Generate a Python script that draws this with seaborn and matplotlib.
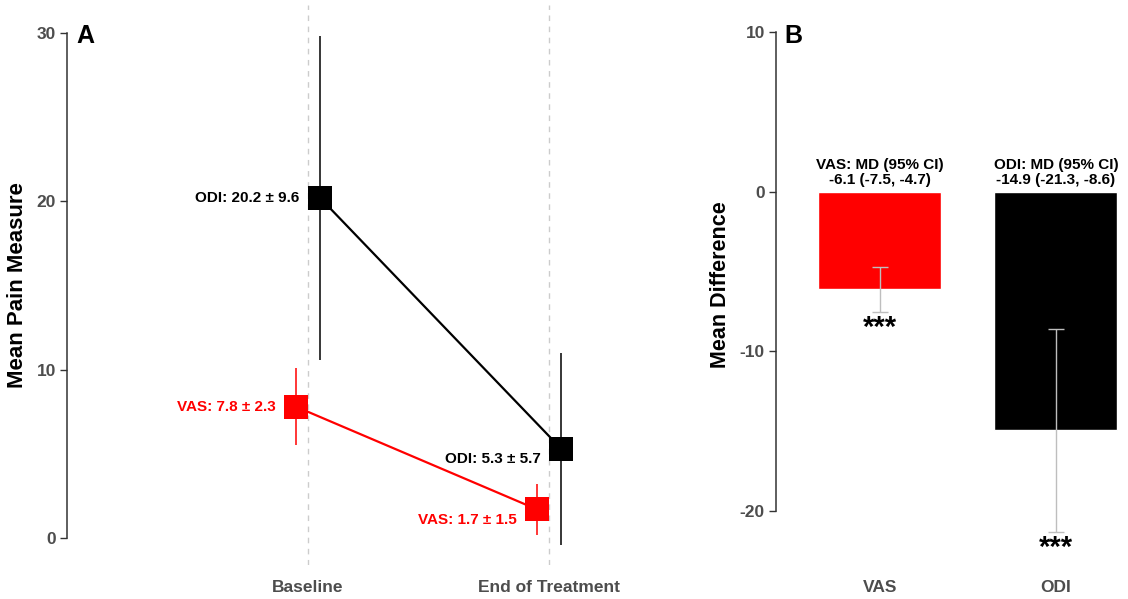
import numpy as np
import pandas as pd
import matplotlib
matplotlib.use('Agg')
import matplotlib.pyplot as plt
import seaborn as sns

sns.set_theme(style='white')
plt.rcParams['font.family'] = ['Liberation Sans', 'DejaVu Sans']
plt.rcParams['font.weight'] = 'bold'
plt.rcParams['axes.unicode_minus'] = False
plt.rcParams['text.color'] = 'black'

# panel A data
timepoints = ['Baseline', 'End of Treatment']
measures = ['ODI', 'VAS']
odi_mean = [20.2, 5.3]
odi_sd = [9.6, 5.7]
vas_mean = [7.8, 1.7]
vas_sd = [2.3, 1.5]

# panel B data
md_labels = ['VAS', 'ODI']
md_values = [-6.1, -14.9]
md_ci_low = [-7.5, -21.3]
md_ci_high = [-4.7, -8.6]
md_stars = ['***', '***']

colors = {'ODI': 'black', 'VAS': 'red'}
grey_txt = '#4d4d4d'

rows = []
for i, tp in enumerate(timepoints):
    rows.append(dict(measure='ODI', tp=tp, pos=i + 1 + 0.05, mean=odi_mean[i], sd=odi_sd[i]))
    rows.append(dict(measure='VAS', tp=tp, pos=i + 1 - 0.05, mean=vas_mean[i], sd=vas_sd[i]))
dfa = pd.DataFrame(rows)

fig = plt.figure(figsize=(11.28, 5.99), dpi=100)
bot, top = 34 / 599, 594 / 599
axA = fig.add_axes([67 / 1128, bot, 610 / 1128, top - bot])
axB = fig.add_axes([776 / 1128, bot, 352 / 1128, top - bot])

# ---- A
for x in [1, 2]:
    axA.axvline(x, color='#cccccc', lw=1, ls=(0, (4, 4)), zorder=0)
for m in measures:
    d = dfa[dfa.measure == m]
    axA.errorbar(d.pos, d['mean'], yerr=d.sd, fmt='none', ecolor=colors[m], elinewidth=1.1, zorder=1)
sns.lineplot(data=dfa, x='pos', y='mean', hue='measure', palette=colors, marker='s',
             markersize=17, markeredgewidth=0, lw=1.6, legend=False, ax=axA, zorder=2)
for _, r in dfa.iterrows():
    yoff = 0 if r.tp == 'Baseline' else -0.6
    axA.text(r.pos - 0.085, r['mean'] + yoff, f"{r.measure}: {r['mean']:.1f} \u00b1 {r.sd:.1f}",
             ha='right', va='center', color=colors[r.measure], fontsize=11, fontweight='bold')
axA.set_xlim(0, 2.53)
axA.set_ylim(-1.6, 31.66)
axA.set_xticks([1, 2])
axA.set_xticklabels(timepoints)
axA.set_yticks([0, 10, 20, 30])
axA.set_xlabel('')
axA.set_ylabel('Mean Pain Measure', fontsize=16, fontweight='bold', color='black', labelpad=6)
axA.spines[['top', 'right', 'bottom']].set_visible(False)
axA.spines['left'].set_bounds(0, 30)

# ---- B
dfb = pd.DataFrame(dict(measure=md_labels, md=md_values, lo=md_ci_low, hi=md_ci_high))
sns.barplot(data=dfb, x='measure', y='md', hue='measure', palette=colors, width=0.7,
            legend=False, saturation=1, ax=axB)
xs = np.arange(len(md_labels))
axB.errorbar(xs, dfb.md, yerr=[dfb.md - dfb.lo, dfb.hi - dfb.md], fmt='none',
             ecolor='#bebebe', elinewidth=1, capsize=6, capthick=1)
for i, r in dfb.iterrows():
    axB.text(i, 0.3, f"{r.measure}: MD (95% CI)\n{r.md:.1f} ({r.lo:.1f}, {r.hi:.1f})",
             ha='center', va='bottom', fontsize=11, fontweight='bold', linespacing=1.1, color='black')
    axB.text(i, r.lo - 1.0, md_stars[i], ha='center', va='center', fontsize=21, fontweight='bold',
             color='black')
axB.set_xlim(-0.59, 1.41)
axB.set_ylim(-23.39, 11.72)
axB.set_yticks([-20, -10, 0, 10])
axB.set_xlabel('')
axB.set_ylabel('Mean Difference', fontsize=15.5, fontweight='bold', color='black', labelpad=6)
axB.spines[['top', 'right', 'bottom']].set_visible(False)
axB.spines['left'].set_bounds(-20, 10)

for ax in (axA, axB):
    ax.spines['left'].set_color('#333333')
    ax.spines['left'].set_linewidth(1.1)
    ax.tick_params(axis='y', left=True, length=5, width=1, color='#333333', pad=3,
                   labelsize=12.5, labelcolor=grey_txt)
    ax.tick_params(axis='x', bottom=False, length=0, pad=11, labelsize=12.5, labelcolor=grey_txt)
    for t in ax.get_xticklabels() + ax.get_yticklabels():
        t.set_fontweight('bold')

fig.text(85 / 1128, 1 - 36 / 599, 'A', fontsize=18, fontweight='bold', ha='center', va='center', color='black')
fig.text(793 / 1128, 1 - 36 / 599, 'B', fontsize=18, fontweight='bold', ha='center', va='center', color='black')

fig.savefig('out.png', dpi=100)
